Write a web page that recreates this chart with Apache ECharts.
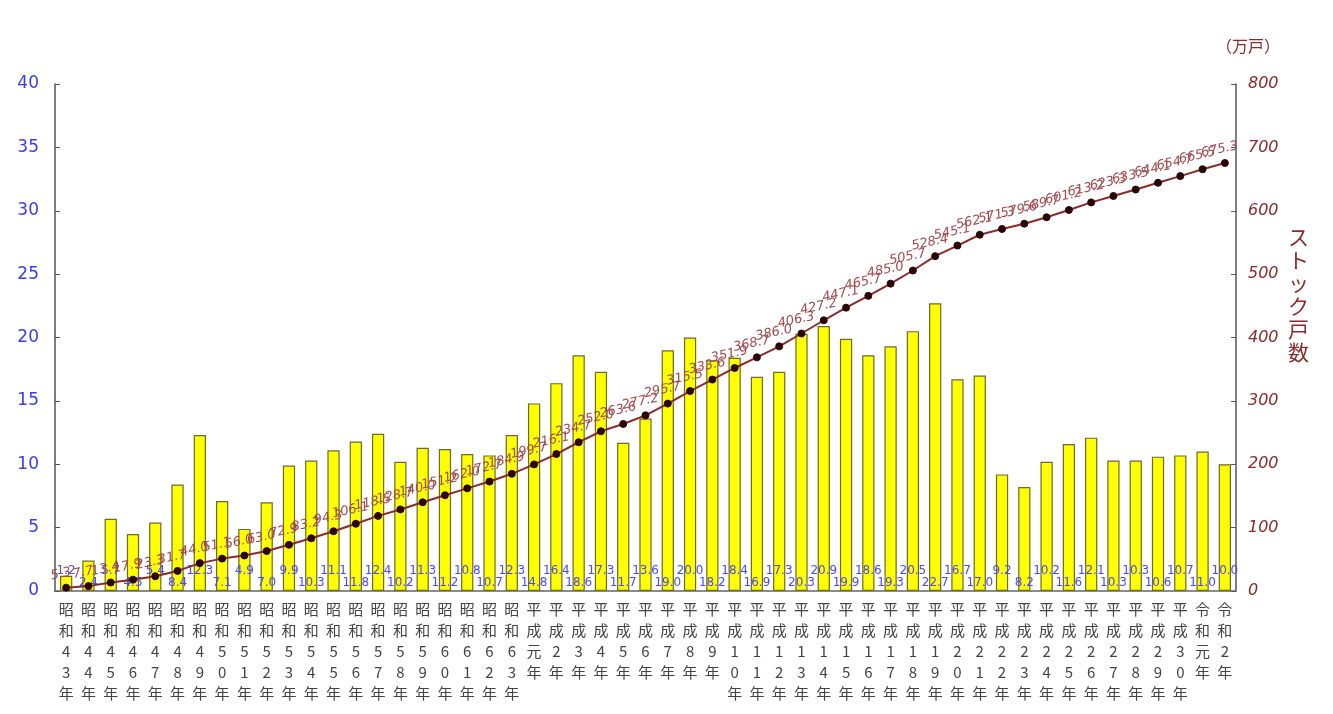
<!DOCTYPE html>
<html>
<head>
<meta charset="utf-8">
<script src="https://cdn.jsdelivr.net/npm/echarts@6/dist/echarts.min.js"></script>
<style>
  html, body { margin: 0; padding: 0; background: #fff; }
  #main { width: 1333px; height: 714px; }
</style>
</head>
<body>
<div id="main"></div>
<script>
// 年次
var years = [
  '昭和43年','昭和44年','昭和45年','昭和46年','昭和47年','昭和48年','昭和49年',
  '昭和50年','昭和51年','昭和52年','昭和53年','昭和54年','昭和55年','昭和56年',
  '昭和57年','昭和58年','昭和59年','昭和60年','昭和61年','昭和62年','昭和63年',
  '平成元年','平成2年','平成3年','平成4年','平成5年','平成6年','平成7年','平成8年','平成9年',
  '平成10年','平成11年','平成12年','平成13年','平成14年','平成15年','平成16年','平成17年',
  '平成18年','平成19年','平成20年','平成21年','平成22年','平成23年','平成24年','平成25年',
  '平成26年','平成27年','平成28年','平成29年','平成30年','令和元年','令和2年'
];
// 新規供給戸数（万戸）
var supply = [
  1.2, 2.4, 5.7, 4.5, 5.4, 8.4, 12.3,
  7.1, 4.9, 7.0, 9.9, 10.3, 11.1, 11.8, 12.4, 10.2, 11.3,
  11.2, 10.8, 10.7, 12.3,
  14.8, 16.4, 18.6, 17.3, 11.7, 13.6, 19.0, 20.0, 18.2,
  18.4, 16.9, 17.3, 20.3, 20.9, 19.9, 18.6, 19.3, 20.5, 22.7,
  16.7, 17.0, 9.2, 8.2, 10.2, 11.6, 12.1, 10.3, 10.3, 10.6, 10.7,
  11.0, 10.0
];
// ストック戸数（万戸）
var stock = [
  5.3, 7.7, 13.4, 17.9, 23.3, 31.7, 44.0,
  51.1, 56.0, 63.0, 72.9, 83.2, 94.3, 106.1, 118.5, 128.7, 140.0,
  151.2, 162.0, 172.7, 184.9,
  199.7, 216.1, 234.7, 252.0, 263.6, 277.2, 295.7, 315.5, 333.6,
  351.9, 368.7, 386.0, 406.3, 427.2, 447.1, 465.7, 485.0, 505.7, 528.4,
  545.1, 562.1, 571.3, 579.6, 589.7, 601.2, 613.2, 623.3, 633.5, 644.1, 654.7,
  665.5, 675.3
];

var chart = echarts.init(document.getElementById('main'));

// 棒ラベルは上下交互に配置
var barData = supply.map(function (v, i) {
  return {
    value: v,
    label: { distance: i % 2 === 0 ? 14 : 2 }
  };
});

var option = {
  backgroundColor: '#fff',
  animation: false,
  textStyle: { fontFamily: 'Noto Sans CJK JP' },
  grid: { left: 55, right: 97, top: 84, bottom: 123 },
  graphic: [{
    type: 'text',
    left: 1288,
    top: 226,
    style: {
      text: 'ス\nト\nッ\nク\n戸\n数',
      fill: '#8b2a2a',
      font: '21px "Noto Sans CJK JP"',
      lineHeight: 23
    }
  }],
  xAxis: {
    type: 'category',
    data: years,
    boundaryGap: true,
    axisLine: { lineStyle: { color: '#666', width: 1.5 } },
    axisTick: { inside: true, length: 5, lineStyle: { color: '#666' } },
    axisLabel: {
      interval: 0,
      margin: 8,
      color: '#444',
      fontSize: 15,
      lineHeight: 21,
      verticalAlign: 'top',
      formatter: function (s) { return s.split('').join('\n'); }
    }
  },
  yAxis: [{
    type: 'value',
    min: 0, max: 40, interval: 5,
    splitLine: { show: false },
    axisLine: { show: true, lineStyle: { color: '#555', width: 1.5 } },
    axisTick: { show: true, inside: true, length: 5, lineStyle: { color: '#555' } },
    axisLabel: { color: '#3b3bf0', fontSize: 17, margin: 16, fontFamily: 'DejaVu Sans' }
  }, {
    type: 'value',
    min: 0, max: 800, interval: 100,
    name: '（万戸）',
    nameLocation: 'end',
    nameGap: 30,
    nameTextStyle: { color: '#8b2a2a', fontSize: 16, align: 'left', padding: [0, 0, 0, -20] },
    splitLine: { show: false },
    axisLine: { show: true, lineStyle: { color: '#555', width: 1.5 } },
    axisTick: { show: true, inside: true, length: 5, lineStyle: { color: '#555' } },
    axisLabel: { color: '#8b2a2a', fontSize: 16, fontStyle: 'italic', margin: 12, fontFamily: 'DejaVu Sans' }
  }],
  series: [{
    name: '新規供給戸数',
    type: 'bar',
    yAxisIndex: 0,
    data: barData,
    barWidth: '55%',
    itemStyle: { color: '#ffff00', borderColor: '#6b6b2a', borderWidth: 1.2 },
    label: {
      show: true,
      position: 'insideBottom',
      color: '#4a4af5',
      fontSize: 12,
      fontFamily: 'DejaVu Sans',
      formatter: function (p) { return p.value.toFixed(1); }
    },
    z: 2
  }, {
    name: 'ストック戸数',
    type: 'line',
    yAxisIndex: 1,
    data: stock,
    smooth: false,
    symbol: 'circle',
    symbolSize: 7,
    lineStyle: { color: '#8b2a2a', width: 2 },
    itemStyle: { color: '#2a0505', borderColor: '#2a0505' },
    label: {
      show: true,
      position: 'top',
      distance: 4,
      offset: [-4, 0],
      rotate: 12,
      color: '#a04a4e',
      fontSize: 13,
      fontStyle: 'italic',
      fontFamily: 'DejaVu Sans',
      formatter: function (p) { return p.value.toFixed(1); }
    },
    z: 3
  }]
};

chart.setOption(option);
</script>
</body>
</html>
